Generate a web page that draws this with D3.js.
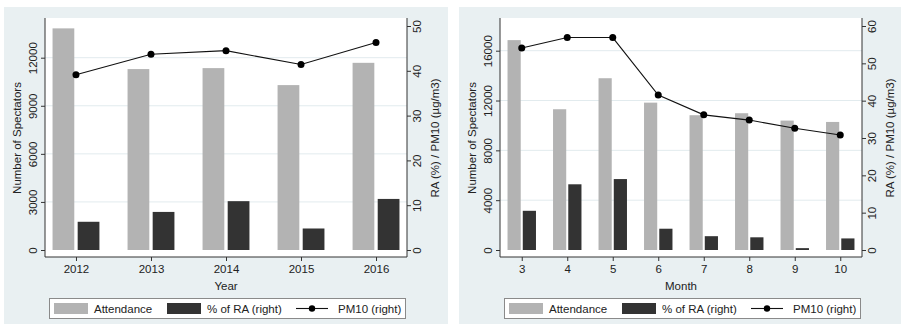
<!DOCTYPE html>
<html>
<head>
<meta charset="utf-8">
<script src="https://cdn.jsdelivr.net/npm/d3@7"></script>
<style>
  body { margin: 0; background: #fff; }
  text { font-family: "Liberation Sans", Arial, sans-serif; fill: #222; }
</style>
</head>
<body>
<div id="chart"></div>
<script>
// Yearly data
const years = ["2012", "2013", "2014", "2015", "2016"];
const yearAttendance = [13830, 11290, 11350, 10290, 11680];
const yearRA = [6.3, 8.5, 10.9, 4.8, 11.4];
const yearPM10 = [39.1, 43.7, 44.5, 41.4, 46.3];
const yearLeftTicks = [0, 3000, 6000, 9000, 12000];
const yearRightTicks = [0, 10, 20, 30, 40, 50];

// Monthly data
const months = ["3", "4", "5", "6", "7", "8", "9", "10"];
const monthAttendance = [16850, 11300, 13790, 11830, 10820, 10980, 10390, 10280];
const monthRA = [10.5, 17.6, 19.0, 5.7, 3.7, 3.4, 0.5, 3.1];
const monthPM10 = [54.1, 56.9, 56.9, 41.5, 36.2, 34.8, 32.6, 30.8];
const monthLeftTicks = [0, 4000, 8000, 12000, 16000];
const monthRightTicks = [0, 10, 20, 30, 40, 50, 60];

const legendLabels = ["Attendance", "% of RA (right)", "PM10 (right)"];

const width = 901, height = 324;
const colors = { bg: "#e9f0f2", grid: "#e2ebee", att: "#b3b3b3", ra: "#333333", line: "#111" };

const svg = d3.select("#chart").append("svg")
    .attr("width", width)
    .attr("height", height);

function drawPanel(offsetX, opts) {
    const { cats, att, ra, pm, leftTicks, rightTicks, leftMax, rightMax, pad, xTitle } = opts;
    const g = svg.append("g").attr("transform", `translate(${offsetX},0)`);
    const plot = { left: 45, right: 407, top: 18, bottom: 257, zero: 250 };

    // background
    g.append("rect")
        .attr("x", 4).attr("y", 7)
        .attr("width", 444).attr("height", 317)
        .attr("fill", colors.bg);
    g.append("rect")
        .attr("x", plot.left).attr("y", plot.top)
        .attr("width", plot.right - plot.left).attr("height", plot.bottom - plot.top)
        .attr("fill", "#fff");

    const x = d3.scalePoint()
        .domain(cats)
        .range([plot.left, plot.right])
        .padding(pad);
    const yL = d3.scaleLinear()
        .domain([0, leftMax.value])
        .range([plot.zero, leftMax.px]);
    const yR = d3.scaleLinear()
        .domain([0, rightMax.value])
        .range([plot.zero, rightMax.px]);

    const step = x.step();
    const bw = step * 0.29;
    const gap = step * 0.045;

    // gridlines
    g.append("g")
        .selectAll("line")
        .data(leftTicks.filter(t => t > 0))
        .join("line")
            .attr("x1", plot.left).attr("x2", plot.right)
            .attr("y1", d => yL(d)).attr("y2", d => yL(d))
            .attr("stroke", colors.grid)
            .attr("stroke-width", 1);

    // bars
    g.append("g")
        .attr("fill", colors.att)
        .selectAll("rect")
        .data(cats)
        .join("rect")
            .attr("x", d => x(d) - gap / 2 - bw)
            .attr("y", (d, i) => yL(att[i]))
            .attr("width", bw)
            .attr("height", (d, i) => yL(0) - yL(att[i]));

    g.append("g")
        .attr("fill", colors.ra)
        .selectAll("rect")
        .data(cats)
        .join("rect")
            .attr("x", d => x(d) + gap / 2)
            .attr("y", (d, i) => yR(ra[i]))
            .attr("width", bw)
            .attr("height", (d, i) => yR(0) - yR(ra[i]));

    // PM10 line
    const line = d3.line()
        .x((d, i) => x(cats[i]))
        .y(d => yR(d));
    g.append("path")
        .datum(pm)
        .attr("fill", "none")
        .attr("stroke", colors.line)
        .attr("stroke-width", 1.1)
        .attr("d", line);
    g.append("g")
        .selectAll("circle")
        .data(pm)
        .join("circle")
            .attr("cx", (d, i) => x(cats[i]))
            .attr("cy", d => yR(d))
            .attr("r", 3.5)
            .attr("fill", "#000");

    // axes
    const axisStyle = sel => {
        sel.select(".domain").attr("stroke", "#333");
        sel.selectAll(".tick line").attr("stroke", "#333");
        sel.selectAll("text").attr("font-size", "11.5px").attr("fill", "#222");
    };

    g.append("g")
        .attr("transform", `translate(${plot.left},0)`)
        .call(d3.axisLeft(yL).tickValues(leftTicks).tickFormat(d3.format("d")).tickSize(4).tickSizeOuter(0))
        .call(g => g.select(".domain").attr("d", `M0,${plot.top}V${plot.bottom}`))
        .call(axisStyle)
        .selectAll("text")
            .attr("transform", "rotate(-90)")
            .attr("x", 0).attr("y", -8).attr("dy", 0)
            .style("text-anchor", "middle");

    g.append("g")
        .attr("transform", `translate(${plot.right},0)`)
        .call(d3.axisRight(yR).tickValues(rightTicks).tickFormat(d3.format("d")).tickSize(4).tickSizeOuter(0))
        .call(g => g.select(".domain").attr("d", `M0,${plot.top}V${plot.bottom}`))
        .call(axisStyle)
        .selectAll("text")
            .attr("transform", "rotate(-90)")
            .attr("x", 0).attr("y", 13.5).attr("dy", 0)
            .style("text-anchor", "middle");

    g.append("g")
        .attr("transform", `translate(0,${plot.bottom})`)
        .call(d3.axisBottom(x).tickSize(4).tickSizeOuter(0))
        .call(g => g.select(".domain").attr("d", `M${plot.left},0H${plot.right}`))
        .call(axisStyle)
        .selectAll("text")
            .attr("y", 8).attr("dy", "0.71em");

    // axis titles
    g.append("text")
        .attr("transform", "rotate(-90)")
        .attr("x", -138).attr("y", 21)
        .attr("font-size", "11.5px")
        .style("text-anchor", "middle")
        .text("Number of Spectators");
    g.append("text")
        .attr("transform", "rotate(-90)")
        .attr("x", -138).attr("y", 439)
        .attr("font-size", "11.5px")
        .style("text-anchor", "middle")
        .text("RA (%) / PM10 (\u00b5g/m3)");
    g.append("text")
        .attr("x", (plot.left + plot.right) / 2).attr("y", 290)
        .attr("font-size", "11.5px")
        .style("text-anchor", "middle")
        .text(xTitle);

    // legend
    const lg = g.append("g");
    lg.append("rect")
        .attr("x", 49.5).attr("y", 298.5)
        .attr("width", 356).attr("height", 20)
        .attr("fill", "#fff")
        .attr("stroke", "#8a8a8a");
    lg.append("rect")
        .attr("x", 54).attr("y", 303).attr("width", 34).attr("height", 11)
        .attr("fill", colors.att);
    lg.append("rect")
        .attr("x", 167).attr("y", 303).attr("width", 34).attr("height", 11)
        .attr("fill", colors.ra);
    lg.append("line")
        .attr("x1", 296).attr("x2", 328).attr("y1", 308.5).attr("y2", 308.5)
        .attr("stroke", colors.line).attr("stroke-width", 1.1);
    lg.append("circle")
        .attr("cx", 312).attr("cy", 308.5).attr("r", 3.2).attr("fill", "#000");
    lg.selectAll("text")
        .data(legendLabels)
        .join("text")
            .attr("x", (d, i) => [94, 207, 338][i])
            .attr("y", 312.5)
            .attr("font-size", "11.5px")
            .text(d => d);
}

drawPanel(0, {
    cats: years, att: yearAttendance, ra: yearRA, pm: yearPM10,
    leftTicks: yearLeftTicks, rightTicks: yearRightTicks,
    leftMax: { value: 12000, px: 57.7 }, rightMax: { value: 50, px: 26 },
    pad: 0.413, xTitle: "Year"
});

drawPanel(455, {
    cats: months, att: monthAttendance, ra: monthRA, pm: monthPM10,
    leftTicks: monthLeftTicks, rightTicks: monthRightTicks,
    leftMax: { value: 16000, px: 50.7 }, rightMax: { value: 60, px: 26 },
    pad: 0.478, xTitle: "Month"
});
</script>
</body>
</html>
